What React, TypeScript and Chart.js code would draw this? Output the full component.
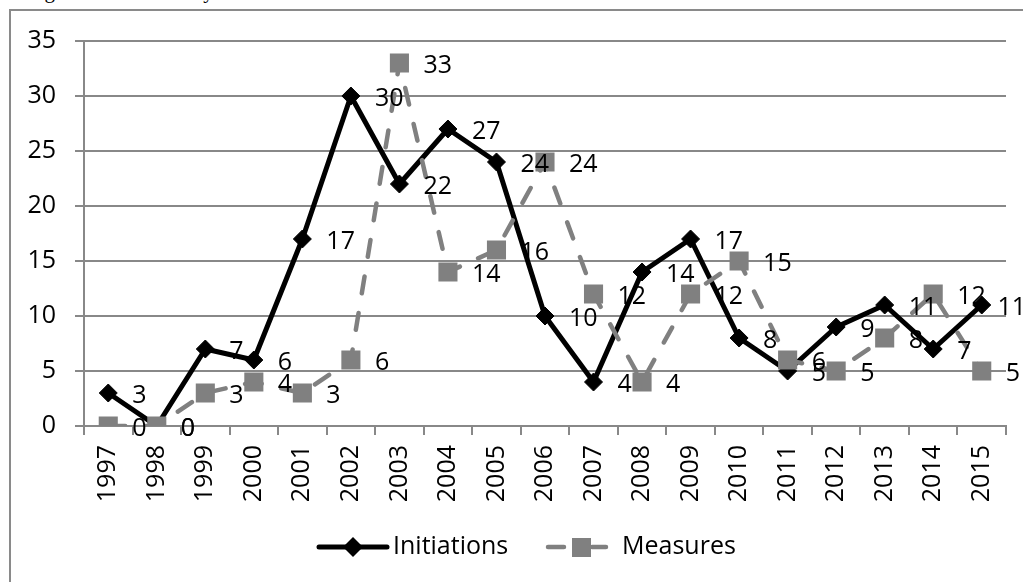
import React, { useEffect, useRef } from "react";
import { Chart, registerables } from "chart.js";

Chart.register(...registerables);

const years = ["1997", "1998", "1999", "2000", "2001", "2002", "2003", "2004", "2005", "2006", "2007", "2008", "2009", "2010", "2011", "2012", "2013", "2014", "2015"];
const initiations = [3, 0, 7, 6, 17, 30, 22, 27, 24, 10, 4, 14, 17, 8, 5, 9, 11, 7, 11];
const measures = [0, 0, 3, 4, 3, 6, 33, 14, 16, 24, 12, 4, 12, 15, 6, 5, 8, 12, 5];
const seriesNames = ["Initiations", "Measures"];
const yMin = 0;
const yMax = 35;
const yStep = 5;
const caption = "Figure 3: AD cases by Year";

const FONT = '"Open Sans", "Noto Sans", sans-serif';
const GRID = "#888888";
const GRAY = "#808080";

const dataLabelPlugin = {
  id: "dataLabels",
  afterDatasetsDraw(chart: any) {
    const ctx = chart.ctx;
    ctx.save();
    ctx.font = `25px ${FONT}`;
    ctx.fillStyle = "#000";
    ctx.textAlign = "left";
    ctx.textBaseline = "middle";
    chart.data.datasets.forEach((ds: any, i: number) => {
      const meta = chart.getDatasetMeta(i);
      meta.data.forEach((pt: any, j: number) => {
        const txt = String(ds.data[j]);
        const w = ctx.measureText(txt).width;
        const x = Math.min(pt.x + 24, chart.width + 3 - w);
        ctx.fillText(txt, x, pt.y + 3);
      });
    });
    ctx.restore();
  },
};

const legendPlugin = {
  id: "customLegend",
  afterDraw(chart: any) {
    const ctx = chart.ctx;
    const y = 547;
    ctx.save();
    // Initiations
    ctx.strokeStyle = "#000";
    ctx.lineWidth = 5;
    ctx.lineCap = "round";
    ctx.beginPath();
    ctx.moveTo(319, y);
    ctx.lineTo(387, y);
    ctx.stroke();
    ctx.fillStyle = "#000";
    ctx.beginPath();
    ctx.moveTo(353 - 10, y);
    ctx.lineTo(353, y - 10);
    ctx.lineTo(353 + 10, y);
    ctx.lineTo(353, y + 10);
    ctx.closePath();
    ctx.fill();
    // Measures
    ctx.strokeStyle = GRAY;
    ctx.lineWidth = 4.5;
    ctx.beginPath();
    ctx.moveTo(548, y);
    ctx.lineTo(564, y);
    ctx.moveTo(592, y);
    ctx.lineTo(606, y);
    ctx.stroke();
    ctx.fillStyle = GRAY;
    ctx.fillRect(572, y - 9, 19, 19);
    // Text
    ctx.fillStyle = "#000";
    ctx.font = `25px ${FONT}`;
    ctx.textAlign = "left";
    ctx.textBaseline = "middle";
    ctx.fillText(seriesNames[0], 393, y);
    ctx.fillText(seriesNames[1], 622, y);
    ctx.restore();
  },
};

export default function App() {
  const canvasRef = useRef<HTMLCanvasElement | null>(null);

  useEffect(() => {
    document.documentElement.style.overflow = "hidden";
    const canvas = canvasRef.current;
    if (!canvas) return;
    const chart = new Chart(canvas, {
      type: "line",
      data: {
        labels: years,
        datasets: [
          {
            label: seriesNames[0],
            data: initiations,
            borderColor: "#000",
            backgroundColor: "#000",
            borderWidth: 5,
            borderJoinStyle: "round",
            borderCapStyle: "round",
            pointStyle: "rectRot",
            pointRadius: 9,
            pointBorderWidth: 1,
            pointBackgroundColor: "#000",
            pointBorderColor: "#000",
            tension: 0,
            order: 1,
          },
          {
            label: seriesNames[1],
            data: measures,
            borderColor: GRAY,
            backgroundColor: GRAY,
            borderWidth: 4.5,
            borderDash: [17, 20],
            borderJoinStyle: "round",
            borderCapStyle: "round",
            pointStyle: "rect",
            pointRadius: 13.5,
            pointBorderWidth: 0,
            pointBackgroundColor: GRAY,
            pointBorderColor: GRAY,
            tension: 0,
            order: 0,
          },
        ],
      },
      options: {
        responsive: false,
        animation: false,
        devicePixelRatio: 1,
        layout: { padding: { left: 0, top: 41, right: 17, bottom: 0 } },
        plugins: {
          legend: { display: false },
          tooltip: { enabled: false },
          title: { display: false },
        },
        scales: {
          x: {
            type: "category",
            offset: true,
            grid: {
              display: true,
              drawOnChartArea: false,
              drawTicks: true,
              tickLength: 9,
              color: GRID,
              lineWidth: 2,
              offset: true,
            },
            border: { display: true, color: GRID, width: 2 },
            ticks: {
              autoSkip: false,
              minRotation: 90,
              maxRotation: 90,
              padding: 10,
              color: "#000",
              font: { family: FONT, size: 25 },
            },
            afterFit(scale: any) {
              scale.height = 156;
            },
          },
          y: {
            min: yMin,
            max: yMax,
            grid: {
              display: true,
              drawTicks: true,
              tickLength: 9,
              color: GRID,
              lineWidth: 2,
            },
            border: { display: true, color: GRID, width: 2 },
            ticks: {
              stepSize: yStep,
              padding: 19,
              color: "#000",
              font: { family: FONT, size: 25 },
            },
            afterFit(scale: any) {
              scale.width = 84;
            },
          },
        },
      },
      plugins: [dataLabelPlugin, legendPlugin],
    });
    return () => chart.destroy();
  }, []);

  return (
    <div style={{ position: "absolute", left: 0, top: 0, width: 1023, height: 582, overflow: "hidden", background: "#fff" }}>
      <div
        style={{
          position: "absolute",
          left: 27,
          top: -19,
          fontFamily: '"Liberation Serif", "Times New Roman", serif',
          fontSize: 21,
          lineHeight: "21px",
          whiteSpace: "nowrap",
          color: "#000",
        }}
      >
        {caption}
      </div>
      <div
        style={{
          position: "absolute",
          left: 9,
          top: 9,
          width: 1200,
          height: 800,
          border: "2px solid #8a8a8a",
          boxSizing: "border-box",
        }}
      />
      <canvas
        ref={canvasRef}
        width={1023}
        height={582}
        style={{ position: "absolute", left: 0, top: 0, width: 1023, height: 582 }}
      />
    </div>
  );
}
